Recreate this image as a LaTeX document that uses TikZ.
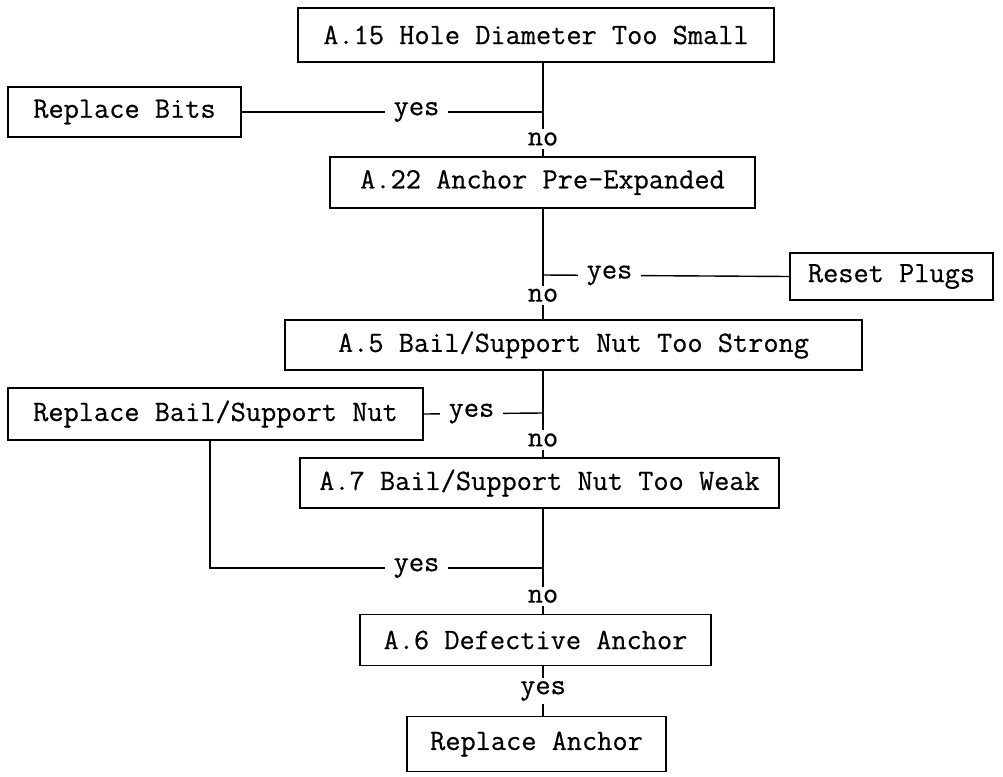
\documentclass[tikz,border=0pt]{standalone}
\usepackage{fontspec}
\setmainfont{Latin Modern Mono}[FakeBold=0.5]
\begin{document}
\begin{tikzpicture}[x=1pt,y=-1pt,
  box/.style={draw,line width=1.5pt,inner sep=0pt,font=\fontsize{29.5}{33}\selectfont},
  lbl/.style={fill=white,inner xsep=9pt,inner ysep=3pt,font=\fontsize{29.5}{33}\selectfont},
  conn/.style={line width=1.4pt}]
\useasboundingbox (0,0) rectangle (1003,776);
\node[box,minimum width=476,minimum height=54] (b1) at (536,35) {A.15 Hole Diameter Too Small};
\node[box,minimum width=233,minimum height=50] (rb) at (124.5,112) {Replace Bits};
\node[box,minimum width=425,minimum height=51] (b2) at (542.5,182.5) {A.22 Anchor Pre-Expanded};
\node[box,minimum width=203,minimum height=47] (rp) at (891.5,276.5) {Reset Plugs};
\node[box,minimum width=577,minimum height=50] (b3) at (573.5,345) {A.5 Bail/Support Nut Too Strong};
\node[box,minimum width=415,minimum height=52] (rbn) at (215.5,414) {Replace Bail/Support Nut};
\node[box,minimum width=479,minimum height=50] (b4) at (539.5,483) {A.7 Bail/Support Nut Too Weak};
\node[box,minimum width=351,minimum height=51] (b5) at (535.5,640) {A.6 Defective Anchor};
\node[box,minimum width=259,minimum height=55] (b6) at (536.5,744) {Replace Anchor};
\coordinate (j1) at (543,112);
\coordinate (j2) at (543,275);
\coordinate (j3) at (543,413);
\coordinate (j4) at (543,568);
\coordinate (c4) at (210,568);
% trunk
\draw[conn] (543,62) -- (j1) -- node[lbl,pos=0.6] (n1) {no} (543,157);
\draw[conn] (543,208) -- (j2) -- node[lbl,pos=0.45] (n2) {no} (543,320);
\draw[conn] (543,370) -- (j3) -- node[lbl,pos=0.6] (n3) {no} (543,458);
\draw[conn] (543,508) -- (j4) -- node[lbl,pos=0.6] (n4) {no} (543,615);
\draw[conn] (b5.south -| 543,0) -- node[lbl,pos=0.5] (y5) {yes} (b6.north -| 543,0);
% branches
\draw[conn] (rb.east) -- node[lbl,pos=0.58] (y1) {yes} (j1);
\draw[conn] (j2) -- node[lbl,pos=0.27] (y2) {yes} (rp.west);
\draw[conn] (rbn.east) -- node[lbl,pos=0.4] (y3) {yes} (j3);
\draw[conn] (rbn.south -| c4) -- (c4) -- node[lbl,pos=0.62] (y4) {yes} (j4);
\end{tikzpicture}
\end{document}
